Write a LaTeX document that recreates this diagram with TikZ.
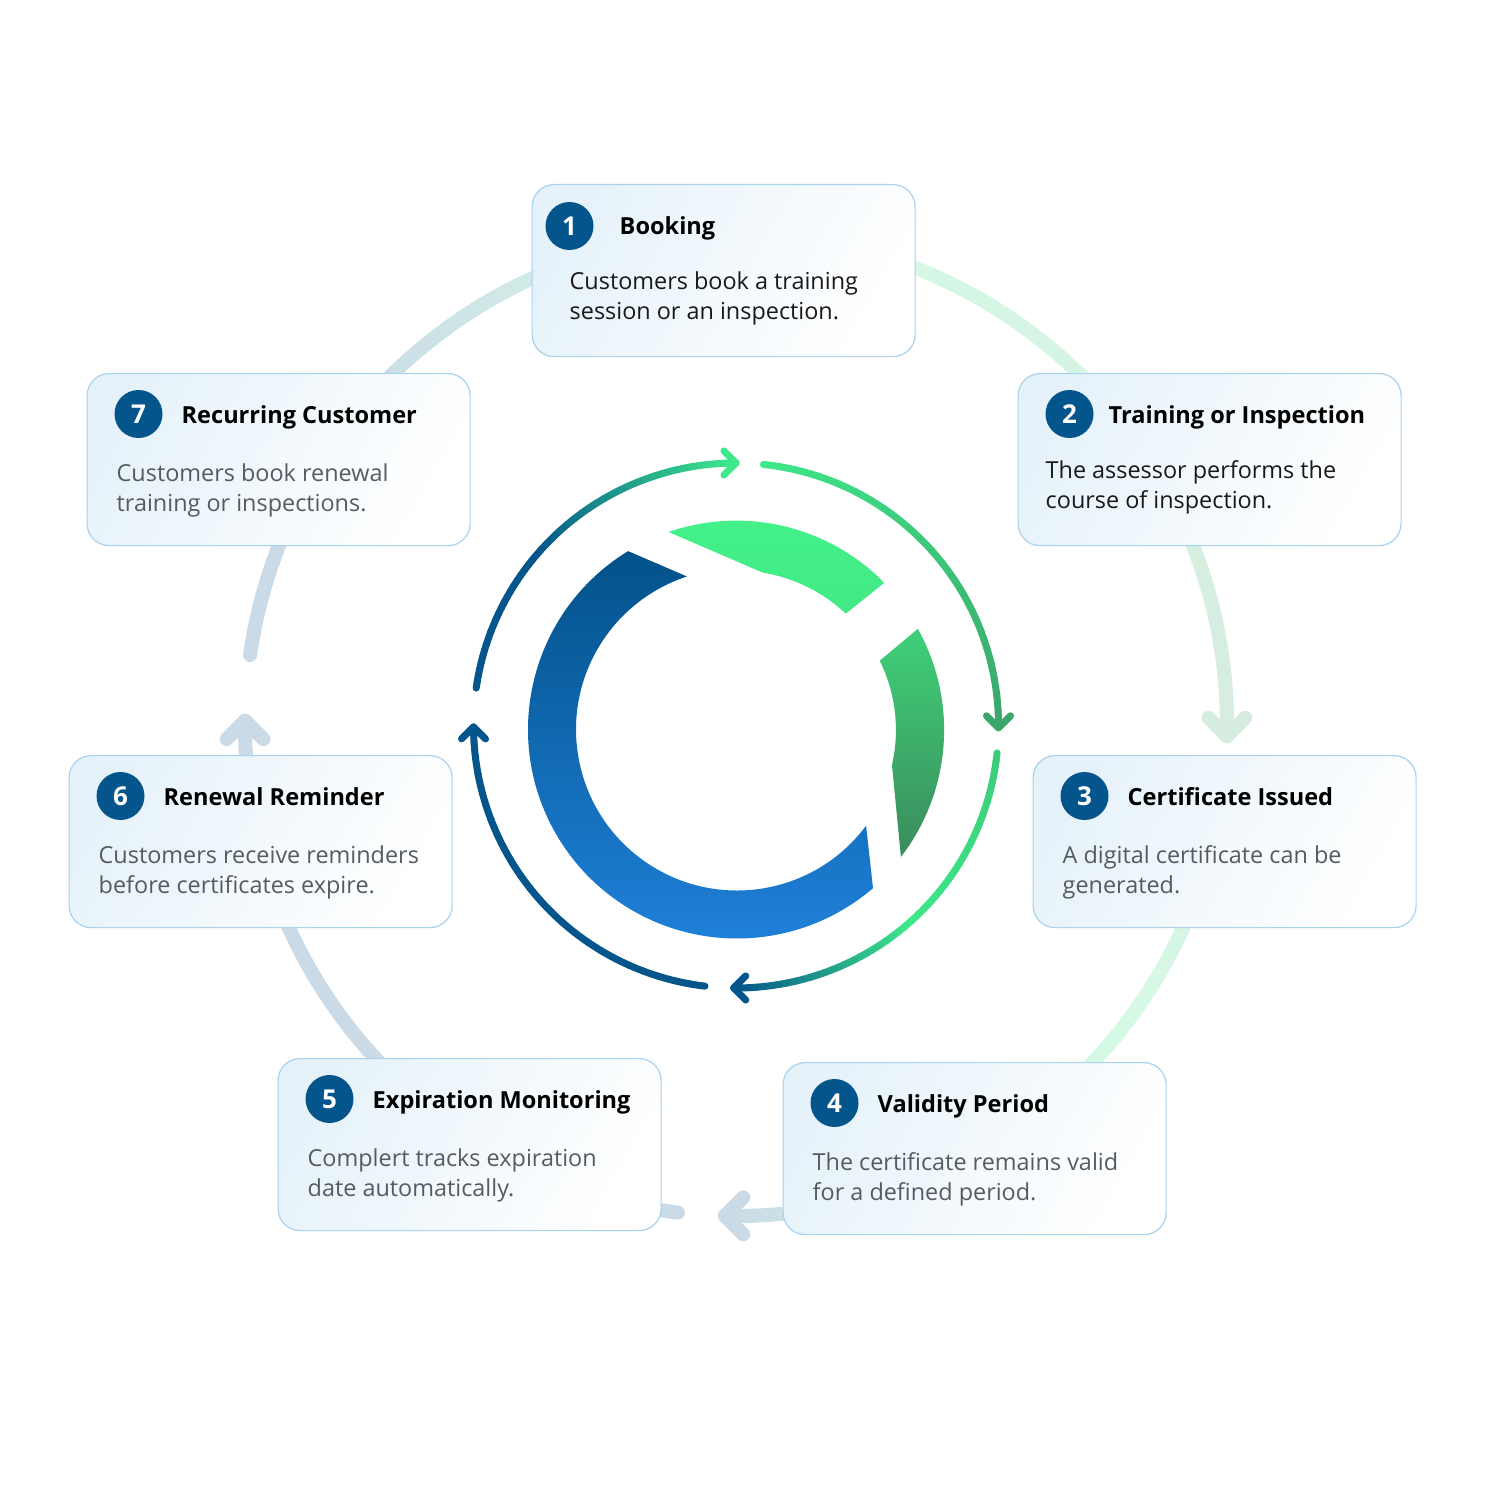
\documentclass[tikz,border=0pt]{standalone}
\usepackage{fontspec}
\setmainfont{Open Sans}
\usetikzlibrary{calc, positioning}

\definecolor{ringblue}{HTML}{04558B}
\definecolor{ringgreen}{HTML}{3EE88A}
\definecolor{ringmoss}{HTML}{3BA66B}
\definecolor{ringteal}{HTML}{3CCB7A}
\definecolor{markblue}{HTML}{1F80D8}
\definecolor{marknavy}{HTML}{02528A}
\definecolor{markmint}{HTML}{44F28A}
\definecolor{markleaf}{HTML}{3FE07F}
\definecolor{markfern}{HTML}{40D078}
\definecolor{markpine}{HTML}{3A8C5C}
\definecolor{cardline}{HTML}{A9D3EE}
\definecolor{cardtint}{HTML}{E6F2FA}
\definecolor{greytext}{HTML}{555B60}

% #1 #2 angles, #3 #4 colours, one colour step per short arc
\newcommand{\gradarc}[4]{
    \foreach \k in {1,...,24} {
        \pgfmathsetmacro\angA{#1+(#2-#1)*(\k-1)/24}
        \pgfmathsetmacro\angB{#1+(#2-#1)*\k/24}
        \pgfmathsetmacro\mixA{100*(\k-0.5)/24}
        \draw[draw=#4!\mixA!#3!\ringtint!white, line width=\ringwd, line cap=round]
            (\ringx,\ringy) ++(\angA:\ringr) arc[start angle=\angA, end angle=\angB, radius=\ringr];
    }
}
% barbed head at angle #1 of the ring, pointing along #2
\newcommand{\ringbarb}[3]{
    \draw[draw=#3!\ringtint!white, line width=\ringwd, line cap=round, line join=round]
        (\ringx,\ringy) ++(#1:\ringr) ++(#2+135:\barblen) -- ++(#2-45:\barblen) -- ++(#2-135:\barblen);
}
% the whole four arc cycle: x, y, radius, width, barb length, tint, extra reach of the heads
\newcommand{\ringcycle}[7]{
    \def\ringx{#1}\def\ringy{#2}\def\ringr{#3}\def\ringwd{#4}\def\barblen{#5}\def\ringtint{#6}
    \pgfmathsetmacro\endB{360.5+#7}
    \pgfmathsetmacro\endC{450.5+#7}
    \pgfmathsetmacro\endD{539.7+#7}
    \gradarc{188.2}{222}{ringblue}{ringblue}
    \gradarc{222}{270}{ringblue}{ringgreen}
    \gradarc{276}{\endB}{ringgreen}{ringmoss}
    \gradarc{366}{410}{ringteal}{ringgreen}
    \gradarc{410}{\endC}{ringgreen}{ringblue}
    \gradarc{456.8}{\endD}{ringblue}{ringblue}
    \ringbarb{270}{0}{ringgreen}
    \ringbarb{\endB}{90}{ringmoss}
    \ringbarb{\endC}{180}{ringblue}
    \ringbarb{\endD}{270}{ringblue}
}

\begin{document}
\begin{tikzpicture}[
        x=0.1mm, y=-0.1mm,
        card/.style={anchor=north west, minimum width=38.3mm, minimum height=17.2mm, inner sep=0pt,
            rounded corners=2.2mm, draw=cardline, line width=0.35pt,
            left color=cardtint, right color=white, shading angle=60},
        numdot/.style={circle, fill=ringblue, minimum size=4.8mm, inner sep=0pt, text=white,
            font=\fontsize{7.4}{9}\selectfont\bfseries},
        cardtitle/.style={anchor=base west, inner sep=0pt, text=black,
            font=\fontsize{6.7}{9}\selectfont\bfseries},
        cardtext/.style={anchor=west, inner sep=0pt, align=left, text=black!90,
            font=\fontsize{6.66}{8.54}\selectfont},
        greynote/.style={cardtext, text=greytext}
    ]
    \useasboundingbox (0,0) rectangle (1500,1500);

    \ringcycle{736}{725}{491}{4pt}{26}{21}{0.8}
    \ringcycle{736}{725.5}{262.5}{2pt}{17}{100}{0}

    % ring of the mark
    \coordinate (hub) at (737,729.5);
    \shade[top color=marknavy, bottom color=markblue] (hub) ++(238.6:209)
        arc[start angle=238.6, end angle=49.4, radius=209] -- ($(hub)+(36.7:161)$)
        arc[start angle=36.7, end angle=251.9, radius=161] -- cycle;
    \shade[top color=markmint, bottom color=markleaf] (hub) ++(250.9:209)
        arc[start angle=250.9, end angle=315.6, radius=207] -- ($(hub)+(313.2:159)$)
        arc[start angle=313.2, end angle=279.3, radius=159] -- cycle;
    \shade[top color=markfern, bottom color=markpine] (hub) ++(330.9:207)
        arc[start angle=330.9, end angle=397.6, radius=208] -- ($(hub)+(372.9:159)$)
        arc[start angle=372.9, end angle=333.7, radius=156.5] -- cycle;

    \node[card] (cardA) at (531.5,184) {};
    \node[card] (cardB) at (1017.5,373) {};
    \node[card] (cardC) at (1032.5,755) {};
    \node[card] (cardD) at (782.5,1062) {};
    \node[card] (cardE) at (277.5,1058) {};
    \node[card] (cardF) at (68.5,755) {};
    \node[card] (cardG) at (86.5,373) {};

    \node[numdot] (dotA) at ($(cardA.north west)+(38,42)$) {1};
    \node[numdot] (dotB) at ($(cardB.north west)+(52,41)$) {2};
    \node[numdot] (dotC) at ($(cardC.north west)+(52,41)$) {3};
    \node[numdot] (dotD) at ($(cardD.north west)+(52,41)$) {4};
    \node[numdot] (dotE) at ($(cardE.north west)+(52,41)$) {5};
    \node[numdot] (dotF) at ($(cardF.north west)+(52,41)$) {6};
    \node[numdot] (dotG) at ($(cardG.north west)+(52,41)$) {7};

    \node[cardtitle] (titleA) at (619,234.5) {Booking};
    \node[cardtitle] (titleB) at (1108,423.5) {Training or Inspection};
    \node[cardtitle] (titleC) at (1127,805.5) {Certificate Issued};
    \node[cardtitle] (titleD) at (877,1112.5) {Validity Period};
    \node[cardtitle] (titleE) at (372,1108.5) {Expiration Monitoring};
    \node[cardtitle] (titleF) at (163,805.5) {Renewal Reminder};
    \node[cardtitle] (titleG) at (181,423.5) {Recurring Customer};

    \node[cardtext] (textA) at (569,298) {Customers book a training\\session or an inspection.};
    \node[cardtext] (textB) at (1045,487) {The assessor performs the\\course of inspection.};
    \node[greynote] (textC) at (1062,872) {A digital certificate can be\\generated.};
    \node[greynote] (textD) at (812,1179) {The certificate remains valid\\for a defined period.};
    \node[greynote] (textE) at (307,1175) {Complert tracks expiration\\date automatically.};
    \node[greynote] (textF) at (98,872) {Customers receive reminders\\before certificates expire.};
    \node[greynote] (textG) at (116,490) {Customers book renewal\\training or inspections.};
\end{tikzpicture}
\end{document}
